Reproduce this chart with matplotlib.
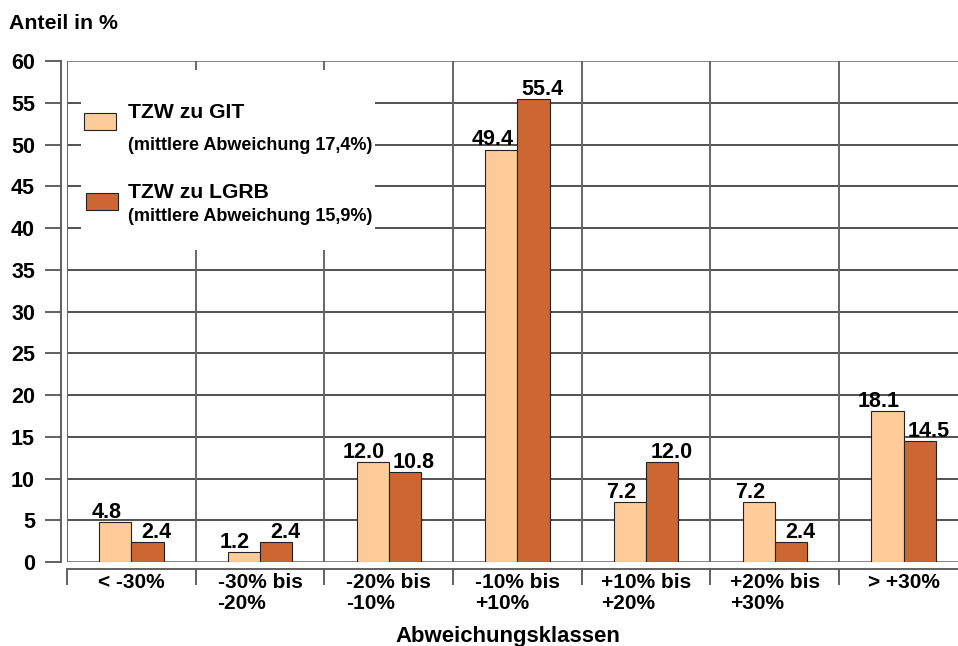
import matplotlib
matplotlib.use('Agg')
import matplotlib.pyplot as plt
from matplotlib.patches import Rectangle

plt.rcParams['font.family'] = ['Liberation Sans', 'DejaVu Sans']
plt.rcParams['font.weight'] = 'bold'

# Abweichungsklassen and share of samples per class
classes = ['< -30%', '-30% bis\n-20%', '-20% bis\n-10%', '-10% bis\n+10%',
           '+10% bis\n+20%', '+20% bis\n+30%', '> +30%']
git = [4.8, 1.2, 12.0, 49.4, 7.2, 7.2, 18.1]
lgrb = [2.4, 2.4, 10.8, 55.4, 12.0, 2.4, 14.5]
series_names = ['TZW zu GIT', 'TZW zu LGRB']
series_notes = ['(mittlere Abweichung 17,4%)', '(mittlere Abweichung 15,9%)']
yticks = list(range(0, 61, 5))

c_light = '#FFCC99'
c_dark = '#CC6633'

W, H = 958, 646


def fx(x):
    return x / W


def fy(y):
    return 1 - y / H


fig = plt.figure(figsize=(W / 100, H / 100), dpi=100)
ax = fig.add_axes([fx(67), fy(562), 7 * 128.7 / W, (562 - 61) / H])

n = len(classes)
ax.set_xlim(0, n)
ax.set_ylim(0, 60)

# grid: horizontal lines every 5, vertical lines at class boundaries
for v in yticks:
    col = '#666666' if v in (0, 60) else '#222222'
    ax.axhline(v, color=col, lw=1.1, zorder=1)
for i in range(n + 1):
    ax.axvline(i, color='#666666', lw=1.4, zorder=1)

w = 0.25
for i in range(n):
    c = i + 0.5
    ax.bar(c - w / 2, git[i], width=w, color=c_light, edgecolor='#222222', lw=0.8, zorder=3)
    ax.bar(c + w / 2, lgrb[i], width=w, color=c_dark, edgecolor='#222222', lw=0.8, zorder=3)
    # value labels sit slightly outward of their bar centres
    ax.annotate('{:.1f}'.format(git[i]), (c - w / 2, git[i]), xytext=(-6.5, 3),
                textcoords='offset points', ha='center', va='baseline',
                fontsize=15.5, fontweight='bold', zorder=4)
    ax.annotate('{:.1f}'.format(lgrb[i]), (c + w / 2, lgrb[i]), xytext=(6.5, 3),
                textcoords='offset points', ha='center', va='baseline',
                fontsize=15.5, fontweight='bold', zorder=4)

for s in ['top', 'right']:
    ax.spines[s].set_visible(False)
ax.spines['left'].set_position(('outward', 4.5))
ax.spines['left'].set_bounds(0, 60)
ax.spines['bottom'].set_position(('outward', 5))
for s in ['left', 'bottom']:
    ax.spines[s].set_color('#555555')
    ax.spines[s].set_linewidth(1.3)

ax.set_yticks(yticks)
ax.set_yticklabels([str(v) for v in yticks], fontsize=15.5, fontweight='bold')
ax.tick_params(axis='y', direction='out', length=11.5, width=1.3, color='#555555', pad=7)

ax.set_xticks(range(n + 1))
ax.set_xticklabels([])
ax.tick_params(axis='x', which='major', direction='out', length=11.5, width=1.3, color='#555555')
ax.set_xticks([i + 0.5 for i in range(n)], minor=True)
ax.set_xticklabels(classes, minor=True, fontsize=15, fontweight='bold',
                   linespacing=1.1, ha='center', va='top')
ax.tick_params(axis='x', which='minor', length=0, pad=3)
for lab in ax.get_xticklabels(minor=True):
    lab.set_multialignment('left')

# legend block drawn on a white panel over the grid
ax.add_patch(Rectangle((fx(81), fy(250)), fx(375) - fx(81), fy(70) - fy(250),
                       transform=fig.transFigure, facecolor='white', edgecolor='none',
                       zorder=2, clip_on=False))
swatches = [(84, 113, c_light), (86, 193, c_dark)]
title_y = [118, 198]
note_y = [150, 221]
for k in range(2):
    x0, y0, col = swatches[k]
    ax.add_patch(Rectangle((fx(x0), fy(y0 + 17)), 32 / W, 17 / H,
                           transform=fig.transFigure, facecolor=col,
                           edgecolor='#222222', lw=0.8, zorder=3, clip_on=False))
    fig.text(fx(128), fy(title_y[k]), series_names[k], fontsize=15.2, fontweight='bold',
             va='baseline', ha='left')
    fig.text(fx(128), fy(note_y[k]), series_notes[k], fontsize=13, fontweight='bold',
             va='baseline', ha='left')

fig.text(fx(9), fy(29), 'Anteil in %', fontsize=15.3, fontweight='bold', va='baseline')
fig.text(fx(508), fy(642), 'Abweichungsklassen', fontsize=15.9, fontweight='bold',
         ha='center', va='baseline')

fig.savefig('out.png', dpi=100)
